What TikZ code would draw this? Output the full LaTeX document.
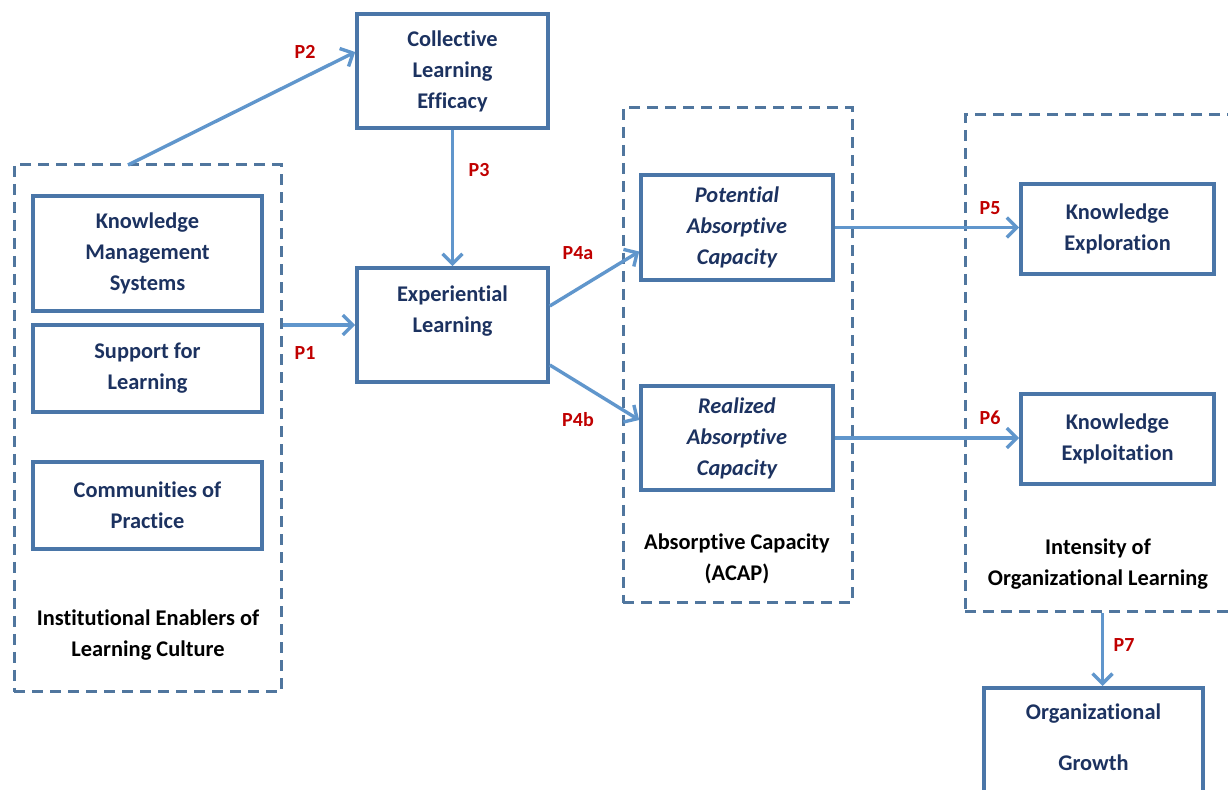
\documentclass[tikz,border=0pt]{standalone}
\usepackage{fontspec}
\setmainfont{Carlito}[Ligatures=NoCommon]
\usetikzlibrary{arrows.meta}
\definecolor{boxblue}{RGB}{74,118,168}
\definecolor{arrowblue}{RGB}{96,150,204}
\definecolor{textnavy}{RGB}{28,50,96}
\definecolor{propred}{RGB}{192,0,0}
\definecolor{dashblue}{RGB}{80,118,158}

\begin{document}
\begin{tikzpicture}[x=0.5pt, y=-0.5pt, font=\fontsize{11.2}{15.5}\selectfont\bfseries]
        \tikzstyle{block}=[draw=boxblue, line width=1.8pt, align=center, text=textnavy, inner sep=2pt]
        \tikzstyle{group}=[draw=dashblue, line width=1.5pt, dash pattern=on 5.5pt off 3.5pt]
        \tikzstyle{grouplabel}=[align=center, text=black]
        \tikzstyle{link}=[draw=arrowblue, line width=1.7pt, -{Straight Barb[length=5pt,width=10pt]}]
        \tikzstyle{prop}=[text=propred, font=\fontsize{10}{12}\selectfont\bfseries]

        \useasboundingbox (0,0) rectangle (1228,790);

        % dashed groups
        \node[group, minimum width=133.5pt, minimum height=263.5pt] (enablers) at (147.5,428.5) {};
        \node[group, minimum width=114.5pt, minimum height=247.5pt] (acap) at (737.5,355.5) {};
        \node[group, minimum width=137.5pt, minimum height=248.5pt] (intensity) at (1102.5,363.5) {};

        \node[grouplabel] (enablersL) at (148,635) {Institutional Enablers of\\Learning Culture};
        \node[grouplabel] (acapL) at (737,559) {Absorptive Capacity\\(ACAP)};
        \node[grouplabel] (intensityL) at (1098,564) {Intensity of\\Organizational Learning};

        % blocks
        \node[block, minimum width=114.5pt, minimum height=57.5pt] (KMS) at (147.5,253.5) {Knowledge\\Management\\Systems};
        \node[block, minimum width=114.5pt, minimum height=43.5pt] (SFL) at (147.5,368.5) {Support for\\Learning};
        \node[block, minimum width=114.5pt, minimum height=43.5pt] (COP) at (147.5,505.5) {Communities of\\Practice};
        \node[block, minimum width=95.5pt, minimum height=57pt] (CLE) at (452.5,71) {Collective\\Learning\\Efficacy};
        \node[block, minimum width=95.5pt, minimum height=57pt] (EL) at (452.5,325) {Experiential\\Learning\\~};
        \node[block, minimum width=96pt, minimum height=52.5pt, font=\fontsize{11.2}{15.5}\selectfont\bfseries\itshape] (PAC) at (737,227.5) {Potential\\Absorptive\\Capacity};
        \node[block, minimum width=96pt, minimum height=52pt, font=\fontsize{11.2}{15.5}\selectfont\bfseries\itshape] (RAC) at (737,438) {Realized\\Absorptive\\Capacity};
        \node[block, minimum width=96.5pt, minimum height=45pt] (KER) at (1117.5,229) {Knowledge\\Exploration};
        \node[block, minimum width=96.5pt, minimum height=45pt] (KEI) at (1117.5,439) {Knowledge\\Exploitation};
        \node[block, minimum width=109.5pt, anchor=north, inner ysep=8pt, text depth=30pt] (OG) at (1093.5,686) {Organizational\\[10pt]Growth};

        % propositions
        \coordinate (P2start) at (128,165);
        \draw[link] (P2start) -- ([yshift=9.5pt]CLE.west);
        \draw[link] (enablers.east |- EL.west) -- (EL.west);
        \draw[link] (CLE.south) -- (EL.north);
        \draw[link] ([yshift=9.5pt]EL.east) -- ([yshift=-12pt]PAC.west);
        \draw[link] ([yshift=-20pt]EL.east) -- ([yshift=9pt]RAC.west);
        \draw[link] (PAC.east) -- (PAC.east -| KER.west);
        \draw[link] (RAC.east) -- (RAC.east -| KEI.west);
        \draw[link] (intensity.south) -- (intensity.south |- OG.north);

        \node[prop] (P1) at (305,353) {P1};
        \node[prop] (P2) at (305,52) {P2};
        \node[prop] (P3) at (479,170) {P3};
        \node[prop] (P4a) at (578,253) {P4a};
        \node[prop] (P4b) at (578,420) {P4b};
        \node[prop] (P5) at (990,208) {P5};
        \node[prop] (P6) at (990,418) {P6};
        \node[prop] (P7) at (1124,645) {P7};
\end{tikzpicture}
\end{document}
